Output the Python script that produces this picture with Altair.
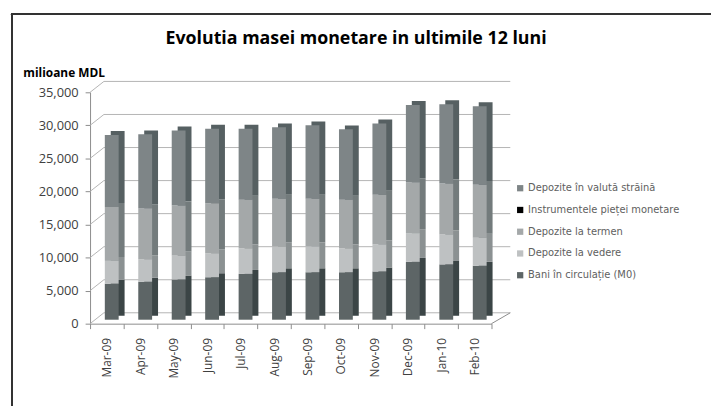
import altair as alt
import pandas as pd

months = ["Mar-09", "Apr-09", "May-09", "Jun-09", "Jul-09", "Aug-09",
          "Sep-09", "Oct-09", "Nov-09", "Dec-09", "Jan-10", "Feb-10"]

bani_m0 = [5450, 5740, 6090, 6440, 6930, 7180, 7180, 7180, 7300, 8750, 8370, 8160]
dep_vedere = [3450, 3410, 3610, 3600, 3870, 3900, 3920, 3620, 4100, 4350, 4530, 4240]
dep_termen = [8160, 7720, 7570, 7560, 7360, 7220, 7200, 7360, 7500, 7700, 7700, 8000]
instrumente = [0, 0, 0, 0, 0, 0, 0, 0, 0, 0, 0, 0]
dep_valuta = [10890, 11170, 11370, 11300, 10740, 10800, 11100, 10640, 10800, 11700, 12000, 11900]

series_names = [
    "Bani în circulație (M0)",
    "Depozite la vedere",
    "Depozite la termen",
    "Instrumentele pieței monetare",
    "Depozite în valută străină",
]
series_values = [bani_m0, dep_vedere, dep_termen, instrumente, dep_valuta]
front_colors = ["#5d6566", "#bec1c2", "#a4a8a9", "#000000", "#7e8587"]
side_colors = ["#3b4546", "#8b9192", "#737b7c", "#000000", "#566062"]

legend_order = [series_names[4], series_names[3], series_names[2], series_names[1], series_names[0]]
legend_colors = [front_colors[4], front_colors[3], front_colors[2], front_colors[1], front_colors[0]]

y_ticks = [0, 5000, 10000, 15000, 20000, 25000, 30000, 35000]

rows = []
for si, (name, vals) in enumerate(zip(series_names, series_values)):
    for m, v in zip(months, vals):
        rows.append({"month": m, "series": name, "value": v, "ord": si,
                     "side": side_colors[si]})
df = pd.DataFrame(rows)
grid_df = pd.DataFrame({"value": y_ticks})

W, H = 406, 234
DX, DY = 14, -11

x_enc = alt.X("month:N", sort=months,
              scale=alt.Scale(paddingInner=0, paddingOuter=0),
              axis=alt.Axis(title=None, labelAngle=-90, labelAlign="right",
                            labelBaseline="middle", labelPadding=9,
                            labelFont="Open Sans", labelFontSize=12,
                            labelColor="#404040", tickBand="extent",
                            tickSize=5, tickColor="#8c8c8c",
                            domainColor="#8c8c8c", grid=False))
y_scale = alt.Scale(domain=[0, 35000], nice=False, zero=True)
y_axis = alt.Axis(values=y_ticks, format=",.0f", grid=False,
                  title="milioane MDL", titleAngle=0, titleAlign="left",
                  titleBaseline="alphabetic", titleX=-68, titleY=-16,
                  titleFont="Open Sans", titleFontSize=12,
                  titleFontWeight="bold", titleColor="#000000",
                  labelFont="Open Sans", labelFontSize=13,
                  labelColor="#404040", labelPadding=7,
                  tickSize=5, tickColor="#8c8c8c",
                  domainColor="#8c8c8c")

grid = alt.Chart(grid_df).mark_rule(color="#b4b4b4", strokeWidth=1, yOffset=DY).encode(
    y=alt.Y("value:Q", scale=y_scale, axis=y_axis),
    x=alt.value(DX), x2=alt.value(W + DX + 5),
)
diag = alt.Chart(grid_df).mark_rule(color="#b4b4b4", strokeWidth=1, y2Offset=DY).encode(
    y=alt.Y("value:Q", scale=y_scale, axis=y_axis),
    y2=alt.Y2("value"),
    x=alt.value(0), x2=alt.value(DX),
)
floor_diag = alt.Chart(pd.DataFrame({"value": [0]})).mark_rule(
    color="#8c8c8c", strokeWidth=1, y2Offset=DY).encode(
    y=alt.Y("value:Q", scale=y_scale, axis=y_axis),
    y2=alt.Y2("value"),
    x=alt.value(W), x2=alt.value(W + DX + 5),
)

side = alt.Chart(df).mark_bar(size=14, xOffset=11, yOffset=-8).encode(
    x=x_enc,
    y=alt.Y("value:Q", stack="zero", scale=y_scale, axis=y_axis),
    color=alt.Color("side:N", scale=None, legend=None),
    order=alt.Order("ord:Q"),
)

front = alt.Chart(df).mark_bar(size=14, xOffset=5, yOffset=-4).encode(
    x=x_enc,
    y=alt.Y("value:Q", stack="zero", scale=y_scale, axis=y_axis),
    color=alt.Color("series:N",
                    scale=alt.Scale(domain=legend_order, range=legend_colors),
                    legend=alt.Legend(title=None, orient="none",
                                      legendX=430, legendY=92,
                                      symbolType="square", symbolSize=40,
                                      symbolStrokeWidth=0,
                                      labelFont="DejaVu Sans", labelFontSize=10,
                                      labelColor="#606060", rowPadding=12,
                                      labelOffset=3)),
    order=alt.Order("ord:Q"),
)

frame_top = alt.Chart(grid_df).mark_rule(color="#333333", strokeWidth=1.5).encode(
    x=alt.value(-80), x2=alt.value(W + 240), y=alt.value(-79))
frame_left = alt.Chart(grid_df).mark_rule(color="#333333", strokeWidth=1.5).encode(
    x=alt.value(-79), y=alt.value(-79), y2=alt.value(H + 100))

chart = alt.layer(frame_top, frame_left, grid, diag, floor_diag, side, front).resolve_scale(
    color="independent"
).properties(
    width=W, height=H,
    autosize="none",
    padding={"left": 83, "top": 83, "right": 222, "bottom": 81},
    title=alt.TitleParams("Evolutia masei monetare in ultimile 12 luni",
                          font="Open Sans", fontSize=18, fontWeight="bold",
                          color="#000000", anchor="middle", frame="group",
                          dx=66, dy=35, offset=0),
).configure_view(stroke=None)

chart.save("out.html", embed_options={"renderer": "svg", "actions": False})
